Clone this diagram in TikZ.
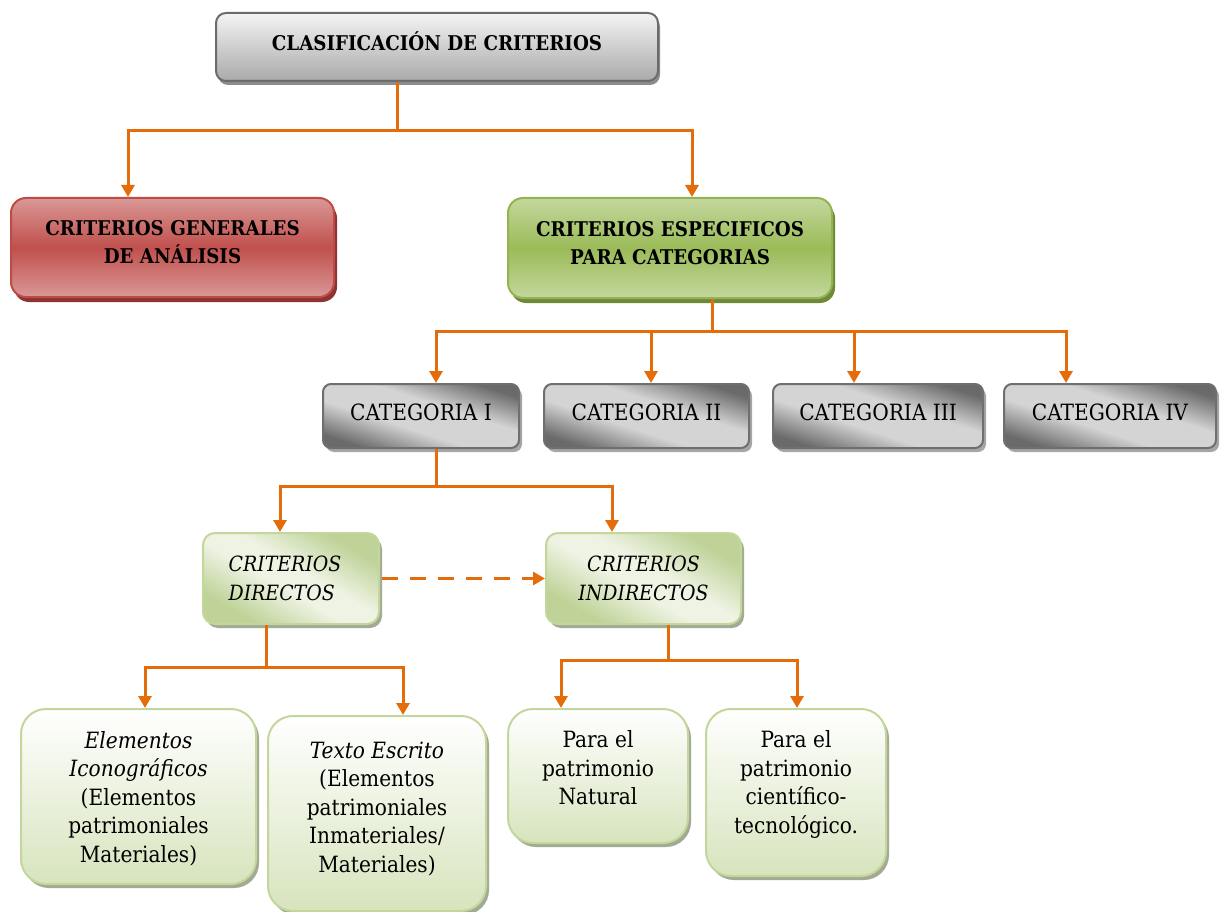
\documentclass[tikz,border=0pt]{standalone}
\usepackage{fontspec}
\setmainfont{DejaVu Serif Condensed}
\usetikzlibrary{arrows.meta,shadows}

\definecolor{orng}{HTML}{E46C0A}
\definecolor{greyline}{HTML}{6B6B6B}
\definecolor{greytop}{HTML}{F4F4F4}
\definecolor{greybot}{HTML}{A9A9A9}
\definecolor{redlt}{HTML}{DA9896}
\definecolor{redmid}{HTML}{C0504D}
\definecolor{redline}{HTML}{BE4B48}
\definecolor{redshadow}{HTML}{8C3431}
\definecolor{grnlt}{HTML}{C4D79D}
\definecolor{grnmid}{HTML}{9BBB59}
\definecolor{grnline}{HTML}{94B352}
\definecolor{grnshadow}{HTML}{6E8A37}
\definecolor{catdark}{HTML}{6A6A6A}
\definecolor{catlight}{HTML}{D4D4D4}
\definecolor{catline}{HTML}{6F6F6F}
\definecolor{critdark}{HTML}{BFD399}
\definecolor{critlight}{HTML}{EEF3E3}
\definecolor{paleline}{HTML}{C3D69B}
\definecolor{palebot}{HTML}{D7E4BD}
\definecolor{paleshadow}{HTML}{A3AA93}

% diagonal dark-light-dark bands for the category and criteria boxes
\pgfdeclareverticalshading{catband}{100bp}{color(0bp)=(catdark); color(25bp)=(catdark); color(42bp)=(catlight); color(58bp)=(catlight); color(75bp)=(catdark); color(100bp)=(catdark)}
\pgfdeclareverticalshading{critband}{100bp}{color(0bp)=(critdark); color(27bp)=(critdark); color(45bp)=(critlight); color(55bp)=(critlight); color(73bp)=(critdark); color(100bp)=(critdark)}

\begin{document}
\begin{tikzpicture}[x=1pt,y=-1pt,
  wire/.style={draw=orng, line width=3pt},
  arr/.style={wire,-{Triangle[width=13pt,length=12pt]}},
  boxbase/.style={anchor=north west, inner sep=0pt},
  lbl/.style={inner sep=0pt, align=center, font=\fontsize{22.4}{28.5}\selectfont},
  boldlbl/.style={lbl, font=\fontsize{20.3}{28}\selectfont\bfseries},
  itlbl/.style={lbl, font=\fontsize{21}{28.5}\selectfont\itshape},
  titlebox/.style={boxbase, rounded corners=10pt, draw=greyline, line width=2pt,
    top color=greytop, bottom color=greybot,
    drop shadow={shadow xshift=2pt, shadow yshift=-4pt, fill=black!45, opacity=1}},
  redbox/.style={boxbase, rounded corners=15pt, draw=redline, line width=2pt,
    top color=redlt, bottom color=redlt, middle color=redmid,
    drop shadow={shadow xshift=3pt, shadow yshift=-5pt, fill=redshadow, opacity=1}},
  greenbox/.style={boxbase, rounded corners=15pt, draw=grnline, line width=2pt,
    top color=grnlt, bottom color=grnlt, middle color=grnmid,
    drop shadow={shadow xshift=3pt, shadow yshift=-5pt, fill=grnshadow, opacity=1}},
  catbox/.style={boxbase, rounded corners=8pt, draw=catline, line width=2pt,
    shading=catband, shading angle=-18, minimum height=64,
    drop shadow={shadow xshift=3pt, shadow yshift=-4pt, fill=black!35, opacity=1}},
  critbox/.style={boxbase, rounded corners=12pt, draw=paleline, line width=2pt,
    shading=critband, shading angle=-30, minimum height=91,
    drop shadow={shadow xshift=3pt, shadow yshift=-4pt, fill=paleshadow, opacity=1}},
  leafbox/.style={boxbase, rounded corners=25pt, draw=paleline, line width=2pt,
    top color=white, bottom color=palebot,
    drop shadow={shadow xshift=3pt, shadow yshift=-4pt, fill=paleshadow, opacity=1}},
]
\useasboundingbox (0,0) rectangle (1221,912);

% ---- level 0 ----
\node[titlebox, minimum width=442, minimum height=68] (top) at (215,12) {};
\node[boldlbl] (topL) at ([yshift=6pt]top.center) {CLASIFICACIÓN DE CRITERIOS};

% ---- level 1 ----
\node[redbox, minimum width=323, minimum height=99] (gen) at (10,197) {};
\node[boldlbl] (genL) at ([yshift=5pt]gen.center) {CRITERIOS GENERALES\\DE ANÁLISIS};
\node[greenbox, minimum width=324, minimum height=100] (esp) at (507,197) {};
\node[boldlbl] (espL) at ([yshift=5pt]esp.center) {CRITERIOS ESPECIFICOS\\PARA CATEGORIAS};

% ---- level 2 ----
\node[catbox, minimum width=196] (c1) at (322,383) {};
\node[catbox, minimum width=205] (c2) at (543,383) {};
\node[catbox, minimum width=210] (c3) at (772,383) {};
\node[catbox, minimum width=212] (c4) at (1003,383) {};
\node[lbl] (c1L) at ([yshift=4pt]c1.center) {CATEGORIA I};
\node[lbl] (c2L) at ([yshift=4pt]c2.center) {CATEGORIA II};
\node[lbl] (c3L) at ([yshift=4pt]c3.center) {CATEGORIA III};
\node[lbl] (c4L) at ([yshift=4pt]c4.center) {CATEGORIA IV};

% ---- level 3 ----
\node[critbox, minimum width=176] (dir) at (202,532) {};
\node[itlbl, align=left] (dirL) at ([xshift=-6pt]dir.center) {CRITERIOS\\DIRECTOS};
\node[critbox, minimum width=195] (ind) at (545,532) {};
\node[itlbl] (indL) at (ind.center) {CRITERIOS\\INDIRECTOS};

% ---- level 4 ----
\node[leafbox, minimum width=235, minimum height=175] (ico) at (20,708) {};
\node[lbl] (icoL) at ([yshift=-2pt]ico.center)
  {\textit{Elementos}\\\textit{Iconográficos}\\(Elementos\\patrimoniales\\Materiales)};
\node[leafbox, minimum width=218, minimum height=195] (esc) at (267,715) {};
\node[lbl] (escL) at ([yshift=5pt]esc.center)
  {\textit{Texto Escrito}\\(Elementos\\patrimoniales\\Inmateriales/\\Materiales)};
\node[leafbox, minimum width=180, minimum height=134] (nat) at (507,708) {};
\node[lbl] (natL) at ([yshift=8pt]nat.center) {Para el\\patrimonio\\Natural};
\node[leafbox, minimum width=180, minimum height=167] (cie) at (705,708) {};
\node[lbl] (cieL) at ([yshift=8pt]cie.center) {Para el\\patrimonio\\científico-\\tecnológico.};

% ---- connectors ----
\coordinate (t0) at (397,131);
\coordinate (t0l) at (128,131);
\coordinate (t0r) at (692,131);
\draw[wire] (top.south -| t0) -- (t0);
\draw[wire, line cap=rect] (t0l) -- (t0r);
\draw[arr] (t0l) -- (t0l |- gen.north);
\draw[arr] (t0r) -- (t0r |- esp.north);

\coordinate (t1) at (712,331);
\coordinate (t1a) at (436,331);
\coordinate (t1b) at (651,331);
\coordinate (t1c) at (854,331);
\coordinate (t1d) at (1066,331);
\draw[wire] (esp.south -| t1) -- (t1);
\draw[wire, line cap=rect] (t1a) -- (t1d);
\draw[arr] (t1a) -- (t1a |- c1.north);
\draw[arr] (t1b) -- (t1b |- c2.north);
\draw[arr] (t1c) -- (t1c |- c3.north);
\draw[arr] (t1d) -- (t1d |- c4.north);

\coordinate (t2) at (436,486);
\coordinate (t2l) at (280,486);
\coordinate (t2r) at (612,486);
\draw[wire] (c1.south -| t2) -- (t2);
\draw[wire, line cap=rect] (t2l) -- (t2r);
\draw[arr] (t2l) -- (t2l |- dir.north);
\draw[arr] (t2r) -- (t2r |- ind.north);

\draw[arr, dash pattern=on 16pt off 12pt] ([xshift=2pt]dir.east) -- (ind.west);

\coordinate (t3) at (266,667);
\coordinate (t3l) at (145,667);
\coordinate (t3r) at (403,667);
\draw[wire] (dir.south -| t3) -- (t3);
\draw[wire, line cap=rect] (t3l) -- (t3r);
\draw[arr] (t3l) -- (t3l |- ico.north);
\draw[arr] (t3r) -- (t3r |- esc.north);

\coordinate (t4) at (668,660);
\coordinate (t4l) at (561,660);
\coordinate (t4r) at (797,660);
\draw[wire] (ind.south -| t4) -- (t4);
\draw[wire, line cap=rect] (t4l) -- (t4r);
\draw[arr] (t4l) -- (t4l |- nat.north);
\draw[arr] (t4r) -- (t4r |- cie.north);
\end{tikzpicture}
\end{document}
